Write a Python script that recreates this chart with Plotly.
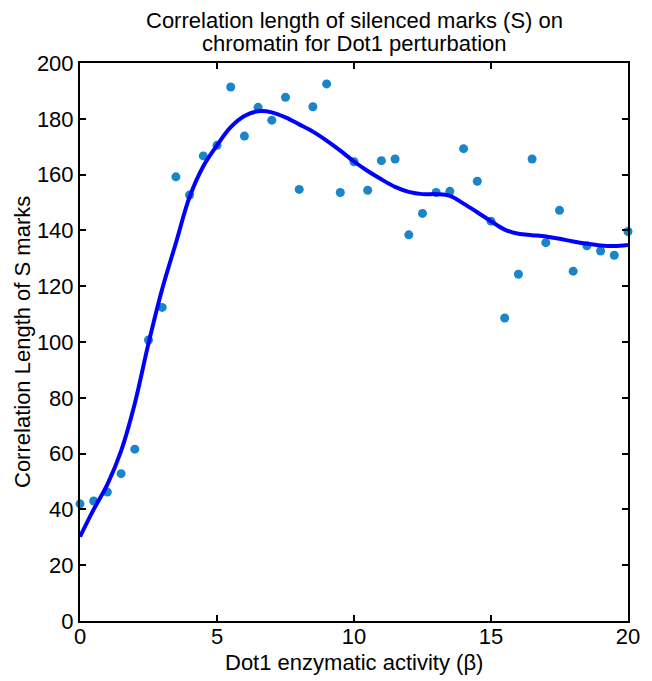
import plotly.graph_objects as go

# Scatter data: Dot1 enzymatic activity (beta) vs correlation length
beta = [0, 0.5, 1, 1.5, 2, 2.5, 3, 3.5, 4, 4.5, 5, 5.5, 6, 6.5, 7, 7.5, 8, 8.5, 9, 9.5,
        10, 10.5, 11, 11.5, 12, 12.5, 13, 13.5, 14, 14.5, 15, 15.5, 16, 16.5, 17, 17.5,
        18, 18.5, 19, 19.5, 20]
corr_len = [42, 43, 46.2, 52.8, 61.6, 100.7, 112.4, 159.2, 152.7, 166.7, 170.5, 191.4,
            173.8, 184.1, 179.5, 187.7, 154.7, 184.3, 192.5, 153.6, 164.6, 154.4, 165.0,
            165.6, 138.4, 146.1, 153.6, 154.0, 169.3, 157.6, 143.3, 108.6, 124.3, 165.6,
            135.6, 147.2, 125.4, 134.5, 132.6, 131.1, 139.6]

# Smooth fit curve
fit_x = [0, 0.5, 1, 1.5, 2, 2.5, 3, 3.5, 4, 4.5, 5, 5.5, 6, 6.5, 7, 7.5, 8, 8.5, 9, 9.5,
         10, 10.5, 11, 11.5, 12, 12.5, 13, 13.5, 14, 14.5, 15, 15.5, 16, 16.5, 17, 17.5,
         18, 18.5, 19, 19.5, 20]
fit_y = [30.2, 40, 49, 61, 78, 99.5, 119, 135.5, 152, 163, 170.5, 177, 181, 182.7, 182.3,
         180.5, 178, 175.4, 172.2, 168.6, 164.7, 161.3, 158.3, 155.6, 153.8, 153, 153,
         152.4, 149.6, 146.5, 143.3, 140.3, 138.8, 138.3, 137.8, 137, 136, 135.2, 134.6,
         134.4, 134.8]

x_ticks = [0, 5, 10, 15, 20]
y_ticks = [0, 20, 40, 60, 80, 100, 120, 140, 160, 180, 200]

title_lines = ["Correlation length of silenced marks (S) on",
               "chromatin for Dot1 perturbation"]
x_title = "Dot1 enzymatic activity (β)"
y_title = "Correlation Length of S marks"

FONT = "Liberation Sans, Arial, sans-serif"
FS = 22

fig = go.Figure()
fig.add_trace(go.Scatter(x=beta, y=corr_len, mode="markers",
                         marker=dict(color="#1a86c8", size=9, line=dict(width=0)),
                         showlegend=False, cliponaxis=False))
fig.add_trace(go.Scatter(x=fit_x, y=fit_y, mode="lines", line_shape="spline",
                         line=dict(color="#0000ff", width=4), showlegend=False))

axis_common = dict(showgrid=False, zeroline=False, showline=True, linecolor="black",
                   linewidth=2, mirror="ticks", ticks="inside", ticklen=6,
                   tickwidth=2, tickcolor="black",
                   tickfont=dict(family=FONT, size=FS, color="black"))

for i, line in enumerate(title_lines):
    fig.add_annotation(text=line, xref="paper", yref="paper", x=0.5, y=1,
                       xanchor="center", yanchor="middle", yshift=43 - 23 * i,
                       showarrow=False, font=dict(family=FONT, size=FS, color="black"))

fig.add_annotation(text=x_title, xref="paper", yref="paper", x=0.5, y=0,
                   xanchor="center", yanchor="middle", yshift=-41,
                   showarrow=False, font=dict(family=FONT, size=FS, color="black"))
fig.add_annotation(text=y_title, xref="paper", yref="paper", x=0, y=0.5,
                   xanchor="center", yanchor="middle", xshift=-58, textangle=-90,
                   showarrow=False, font=dict(family=FONT, size=FS, color="black"))

# page body adds an 8 px offset, so the figure is sized to fit the window
fig.update_layout(
    width=644, height=673,
    margin=dict(l=72, r=15, t=55, b=60),
    plot_bgcolor="white", paper_bgcolor="white",
    xaxis=dict(range=[0, 20], tickvals=x_ticks, ticklabelstandoff=-5, **axis_common),
    yaxis=dict(range=[0, 200], tickvals=y_ticks, **axis_common),
)

fig.write_html("out.html")
